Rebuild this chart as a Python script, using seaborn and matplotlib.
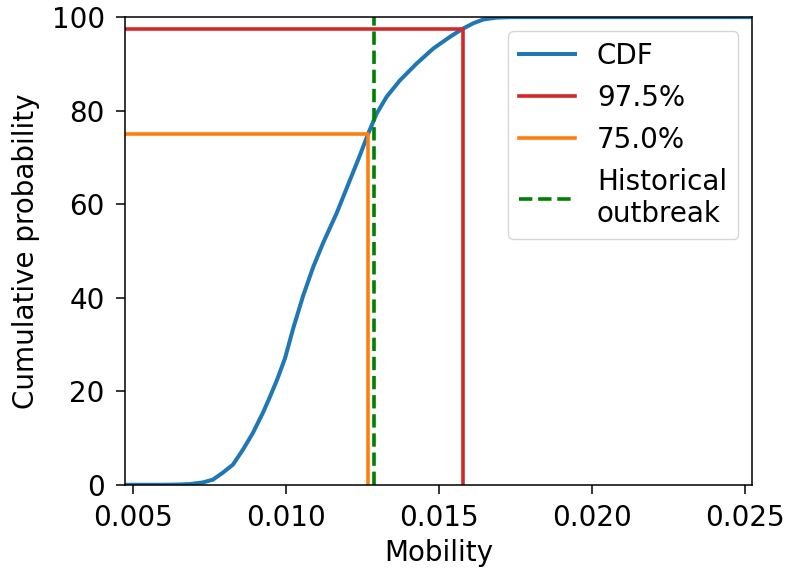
import matplotlib
matplotlib.use("Agg")
import matplotlib.pyplot as plt
import seaborn as sns
import pandas as pd

# CDF curve (mobility, cumulative probability in %)
mobility = [0.00474, 0.0060, 0.0065, 0.006863, 0.007288, 0.007614, 0.007941,
            0.008268, 0.008595, 0.008922, 0.009248, 0.009477, 0.009706,
            0.009967, 0.010239, 0.010565, 0.010892, 0.011219, 0.011657,
            0.012092, 0.012400, 0.012680, 0.012964, 0.013291, 0.013725,
            0.014271, 0.014814, 0.015359, 0.015770, 0.016121, 0.016448,
            0.016886, 0.017320, 0.0252]
cum_prob = [0.0, 0.0, 0.05, 0.15, 0.5, 1.1, 2.6,
            4.3, 7.5, 11.1, 15.4, 18.8, 22.4,
            27.0, 33.5, 40.5, 46.6, 51.8, 58.1,
            65.2, 70.2, 75.0, 79.4, 83.0, 86.5,
            90.1, 93.3, 95.8, 97.5, 98.7, 99.5,
            99.9, 100.0, 100.0]

# Quantiles
q_levels = [97.5, 75.0]
q_values = [0.01577, 0.01268]
q_labels = ["97.5%", "75.0%"]
q_colors = ["#d62728", "#ff7f0e"]

historical = 0.01287
historical_label = "Historical\noutbreak"

x_ticks = [0.005, 0.010, 0.015, 0.020, 0.025]
xlim = (0.004738, 0.02522)

plt.rcParams['font.family'] = ['DejaVu Sans']
plt.rcParams['font.size'] = 20
plt.rcParams['axes.linewidth'] = 1.1
plt.rcParams['xtick.major.size'] = 6.5
plt.rcParams['ytick.major.size'] = 6.5
plt.rcParams['xtick.major.width'] = 1.1
plt.rcParams['ytick.major.width'] = 1.1
plt.rcParams['xtick.major.pad'] = 7.5
plt.rcParams['ytick.major.pad'] = 8.0

fig = plt.figure(figsize=(7.85, 5.71), dpi=100)
ax = fig.add_axes([0.159, 0.151, 0.799, 0.819])

df = pd.DataFrame({"Mobility": mobility, "CDF": cum_prob})
sns.lineplot(data=df, x="Mobility", y="CDF", ax=ax, color="#1f77b4",
             lw=2.9, label="CDF", sort=True)

for lvl, val, lab, col in zip(q_levels, q_values, q_labels, q_colors):
    ax.plot([xlim[0], val, val], [lvl, lvl, 0], color=col, lw=2.6, label=lab)

ax.axvline(historical, color="green", ls="--", lw=2.6, label=historical_label)

ax.set_xlim(*xlim)
ax.set_ylim(0, 100)
ax.set_xticks(x_ticks)
ax.set_xticklabels([f"{t:.3f}" for t in x_ticks])
ax.set_xlabel("Mobility", labelpad=5)
ax.set_ylabel("Cumulative probability", labelpad=8)
ax.legend(loc="upper right")

fig.savefig("out.png", dpi=100)
